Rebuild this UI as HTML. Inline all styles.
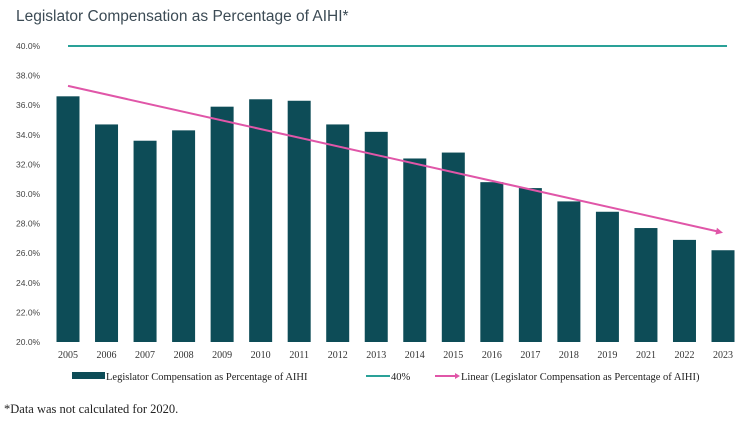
<!DOCTYPE html>
<html><head><meta charset="utf-8"><style>
body{margin:0;background:#fff;width:748px;height:426px;overflow:hidden}
svg{display:block}
</style></head><body>
<svg id="c" width="748" height="426" xmlns="http://www.w3.org/2000/svg">
<text x="16" y="21" font-family="Liberation Sans, sans-serif" font-size="15.5" fill="#3c4b55">Legislator Compensation as Percentage of AIHI*</text>
<g id="yaxis"></g>
<g id="bars"></g>
<g id="xaxis"></g>
<g id="lines"></g>
<g font-family="Liberation Serif, serif" font-size="10.5" fill="#222">
 <g><rect x="72" y="372" width="33" height="7" fill="#0d4c57"/><text x="106" y="380">Legislator Compensation as Percentage of AIHI</text></g>
 <g><line x1="366" y1="376" x2="390" y2="376" stroke="#2aa198" stroke-width="2"/><text x="391" y="380">40%</text></g>
 <g><line x1="435" y1="376" x2="455" y2="376" stroke="#e056a8" stroke-width="2"/><polygon points="455,373 460,376 455,379" fill="#e056a8"/><text x="461" y="380">Linear (Legislator Compensation as Percentage of AIHI)</text></g>
</g>
<text x="4" y="413" font-family="Liberation Serif, serif" font-size="12.5" fill="#222">*Data was not calculated for 2020.</text>
</svg>
<script>
const categories=["2005","2006","2007","2008","2009","2010","2011","2012","2013","2014","2015","2016","2017","2018","2019","2021","2022","2023"];
const values=[36.6,34.7,33.6,34.3,35.9,36.4,36.3,34.7,34.2,32.4,32.8,30.8,30.4,29.5,28.8,27.7,26.9,26.2];
const yTicks=[20,22,24,26,28,30,32,34,36,38,40];
const targetValue=[40];
const NS="http://www.w3.org/2000/svg";
function y(v){return 342-(v-20)*14.8;}
function x(i){return 68+i*38.53;}
function mk(t,a,p){const e=document.createElementNS(NS,t);for(const k in a)e.setAttribute(k,a[k]);p.appendChild(e);return e;}
const ya=document.getElementById('yaxis');
yTicks.forEach(v=>{const t=mk('text',{x:16,y:y(v)+3,'font-family':'Liberation Sans, sans-serif','font-size':'8.5',fill:'#444'},ya);t.textContent=v.toFixed(1)+'%';

});
const bg=document.getElementById('bars'),xa=document.getElementById('xaxis');
values.forEach((v,i)=>{const r=mk('rect',{x:x(i)-11.5,y:y(v),width:23,height:y(20)-y(v),fill:'#0d4c57'},bg);


const t=mk('text',{x:x(i),y:358,'text-anchor':'middle','font-family':'Liberation Serif, serif','font-size':'10',fill:'#333'},xa);t.textContent=categories[i];

});
const lg=document.getElementById('lines');
const tl=mk('line',{x1:x(0),x2:x(values.length-1)+4,y1:y(targetValue[0]),y2:y(targetValue[0]),stroke:'#2aa198','stroke-width':2},lg);


const n=values.length;let sx=0,sy=0,sxy=0,sxx=0;values.forEach((v,i)=>{sx+=i;sy+=v;sxy+=i*v;sxx+=i*i;});
const b=(n*sxy-sx*sy)/(n*sxx-sx*sx),a=(sy-b*sx)/n;
const x1=x(0),y1=y(a),x2=x(n-1),y2=y(a+b*(n-1));
const tr=mk('line',{x1:x1,y1:y1,x2:x2-4,y2:y2-1,stroke:'#e056a8','stroke-width':2},lg);


const ang=Math.atan2(y2-y1,x2-x1);const ah=mk('polygon',{points:`${x2},${y2} ${x2-7*Math.cos(ang)+3.5*Math.sin(ang)},${y2-7*Math.sin(ang)-3.5*Math.cos(ang)} ${x2-7*Math.cos(ang)-3.5*Math.sin(ang)},${y2-7*Math.sin(ang)+3.5*Math.cos(ang)}`,fill:'#e056a8'},lg);


</script>
</body></html>
